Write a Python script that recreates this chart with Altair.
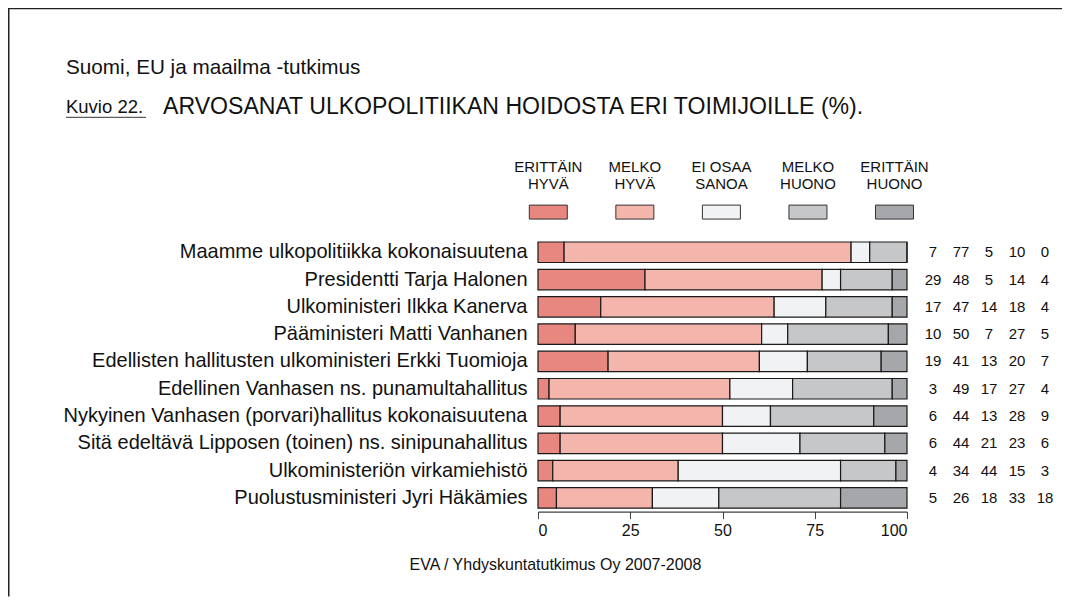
import altair as alt
import pandas as pd

items = [
    "Maamme ulkopolitiikka kokonaisuutena",
    "Presidentti Tarja Halonen",
    "Ulkoministeri Ilkka Kanerva",
    "Pääministeri Matti Vanhanen",
    "Edellisten hallitusten ulkoministeri Erkki Tuomioja",
    "Edellinen Vanhasen ns. punamultahallitus",
    "Nykyinen Vanhasen (porvari)hallitus kokonaisuutena",
    "Sitä edeltävä Lipposen (toinen) ns. sinipunahallitus",
    "Ulkoministeriön virkamiehistö",
    "Puolustusministeri Jyri Häkämies",
]
cats = ["ERITTÄIN HYVÄ", "MELKO HYVÄ", "EI OSAA SANOA", "MELKO HUONO", "ERITTÄIN HUONO"]
legend_line1 = ["ERITTÄIN", "MELKO", "EI OSAA", "MELKO", "ERITTÄIN"]
legend_line2 = ["HYVÄ", "HYVÄ", "SANOA", "HUONO", "HUONO"]
colors = ["#E8877F", "#F4B5AC", "#F1F2F4", "#C6C7C9", "#A6A7AA"]

erittain_hyva = [7, 29, 17, 10, 19, 3, 6, 6, 4, 5]
melko_hyva = [77, 48, 47, 50, 41, 49, 44, 44, 34, 26]
ei_osaa_sanoa = [5, 5, 14, 7, 13, 17, 13, 21, 44, 18]
melko_huono = [10, 14, 18, 27, 20, 27, 28, 23, 15, 33]
erittain_huono = [0, 4, 4, 5, 7, 4, 9, 6, 3, 18]

series = [erittain_hyva, melko_hyva, ei_osaa_sanoa, melko_huono, erittain_huono]
rows = []
for i, it in enumerate(items):
    for k, c in enumerate(cats):
        rows.append({"item": it, "cat": c, "k": k, "value": series[k][i]})
df = pd.DataFrame(rows)
leg = pd.DataFrame({"cat": cats, "l1": legend_line1, "l2": legend_line2})
one = pd.DataFrame({"a": [0]})

FONT = "Liberation Sans"
W, H = 369, 273

ysc = alt.Scale(domain=items, paddingInner=0.25, paddingOuter=0.125)
csc = alt.Scale(domain=cats, range=colors)

bars = alt.Chart(df).transform_joinaggregate(
    total="sum(value)", groupby=["item"]
).transform_calculate(
    pct="datum.value / datum.total * 100"
).mark_bar(stroke="#1a1a1a", strokeWidth=1.2).encode(
    y=alt.Y("item:N", scale=ysc, axis=alt.Axis(title=None, ticks=False, domain=False,
                                               labelFontSize=20, labelPadding=11,
                                               labelLimit=700, labelColor="#111")),
    x=alt.X("pct:Q", stack="zero", scale=alt.Scale(domain=[0, 100], nice=False),
            axis=alt.Axis(values=[0, 25, 50, 75, 100], title=None, grid=False,
                          tickSize=7, tickColor="#444", domainColor="#111",
                          labelFontSize=16, labelPadding=4, labelColor="#111")),
    color=alt.Color("cat:N", scale=csc, legend=None),
    order=alt.Order("k:Q"),
)

vals = alt.Chart(df).mark_text(fontSize=15, color="#111", baseline="middle").encode(
    y=alt.Y("item:N", scale=ysc),
    x=alt.X("cat:N", scale=alt.Scale(type="point", domain=cats, range=[395, 507], padding=0),
            axis=None),
    text="value:Q",
)

legx = alt.X("cat:N", scale=alt.Scale(type="point", domain=cats, range=[10.3, 356.5], padding=0),
             axis=None)
swatch_path = "M-1,-0.368L1,-0.368L1,0.368L-1,0.368Z"
leg_sw = alt.Chart(leg).mark_point(shape=swatch_path, filled=True, size=1444,
                                   stroke="#333", strokeWidth=1, opacity=1).encode(
    x=legx, y=alt.value(-26.5), color=alt.Color("cat:N", scale=csc, legend=None))
leg_t1 = alt.Chart(leg).mark_text(fontSize=15, color="#111", baseline="middle").encode(
    x=legx, y=alt.value(-71.9), text="l1:N")
leg_t2 = alt.Chart(leg).mark_text(fontSize=15, color="#111", baseline="middle").encode(
    x=legx, y=alt.value(-54.6), text="l2:N")

def label(txt, x, y, size, align="left"):
    return alt.Chart(one).mark_text(text=txt, fontSize=size, color="#111", align=align,
                                    baseline="middle").encode(x=alt.value(x), y=alt.value(y))

t_sub = label("Suomi, EU ja maailma -tutkimus", -472, -170.6, 20.7)
t_kuv = label("Kuvio 22.", -472, -131.6, 18.5)
t_main = label("ARVOSANAT ULKOPOLITIIKAN HOIDOSTA ERI TOIMIJOILLE (%).", -375, -131.6, 23.1)
u_kuv = alt.Chart(one).mark_rule(color="#333", strokeWidth=1).encode(
    x=alt.value(-472), x2=alt.value(-392), y=alt.value(-121.3))
footer = label("EVA / Yhdyskuntatutkimus Oy 2007-2008", 17.5, 326.5, 16, align="center")

border_top = alt.Chart(one).mark_rule(color="#222", strokeWidth=1.6).encode(
    x=alt.value(-530), x2=alt.value(524), y=alt.value(-230.1))
border_left = alt.Chart(one).mark_rule(color="#222", strokeWidth=1.6).encode(
    x=alt.value(-529.3), y=alt.value(-231), y2=alt.value(358))

chart = alt.layer(
    bars, vals, leg_sw, leg_t1, leg_t2, t_sub, t_kuv, t_main, u_kuv, footer,
    border_top, border_left
).resolve_scale(x="independent").properties(
    width=W, height=H,
    autosize=alt.AutoSizeParams(type="none"),
    padding={"left": 530, "top": 230.6, "right": 156, "bottom": 86},
    background="white",
).configure(font=FONT).configure_view(stroke=None)

chart.save("out.html", embed_options={"renderer": "svg", "actions": False})
